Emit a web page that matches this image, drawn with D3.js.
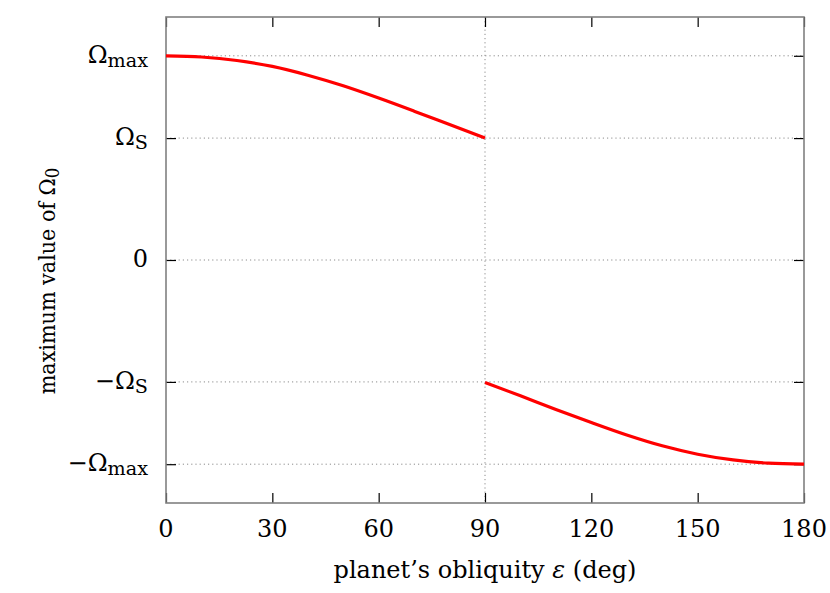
<!DOCTYPE html>
<html>
<head>
<meta charset="utf-8">
<script src="https://cdn.jsdelivr.net/npm/d3@7"></script>
<style>
html,body{margin:0;padding:0;background:#fff;}
svg{display:block;}
text{font-family:"DejaVu Serif",serif;fill:#000;}
</style>
</head>
<body>
<svg id="chart" width="830" height="593"></svg>
<script>
// ---- data ----
const upperObliquity = [0, 10, 20, 30, 40, 50, 60, 70, 80, 90];
const upperOmega     = [1.000, 0.994, 0.977, 0.948, 0.905, 0.853, 0.793, 0.729, 0.663, 0.597];
const lowerObliquity = [90, 100, 110, 120, 130, 140, 150, 160, 170, 180];
const lowerOmega     = [-0.600, -0.665, -0.732, -0.796, -0.857, -0.910, -0.951, -0.979, -0.995, -1.000];

const xTickValues = [0, 30, 60, 90, 120, 150, 180];
const yTickValues = [-1, -0.597, 0, 0.597, 1];
const yTickMain   = ["−Ω", "−Ω", "0", "Ω", "Ω"];
const yTickSub    = ["max", "S", "", "S", "max"];
const xGridValues = [90];

const xLabelParts = ["planet’s obliquity ", "ε", " (deg)"];
const yLabelMain = "maximum value of Ω";
const yLabelSub = "0";

// ---- layout ----
const svg = d3.select("#chart");
const L = 166, R = 804, T = 17, B = 503;
const x = d3.scaleLinear().domain([0, 180]).range([L, R]);
const y = d3.scaleLinear().domain([-1.19, 1.19]).range([B, T]);
const FS = 24;
const SUB = 0.8;

// grid
const grid = svg.append("g").attr("stroke", "#8c8c8c").attr("stroke-width", 1).attr("stroke-dasharray", "1.2,3");
grid.selectAll("line.h").data(yTickValues).enter().append("line")
  .attr("x1", L).attr("x2", R).attr("y1", d => y(d)).attr("y2", d => y(d));
grid.selectAll("line.v").data(xGridValues).enter().append("line")
  .attr("y1", T).attr("y2", B).attr("x1", d => x(d)).attr("x2", d => x(d));

// axes (ticks inward, on all sides)
const tl = 10;
function styleAxis(g){
  g.select(".domain").remove();
  g.selectAll(".tick line").attr("stroke", "#000").attr("stroke-width", 1.2);
  g.selectAll(".tick text").remove();
}
svg.append("g").attr("transform", `translate(0,${B})`)
  .call(d3.axisBottom(x).tickValues(xTickValues).tickSize(-tl).tickFormat("")).call(styleAxis);
svg.append("g").attr("transform", `translate(0,${T})`)
  .call(d3.axisTop(x).tickValues(xTickValues).tickSize(-tl).tickFormat("")).call(styleAxis);
svg.append("g").attr("transform", `translate(${L},0)`)
  .call(d3.axisLeft(y).tickValues(yTickValues).tickSize(-tl).tickFormat("")).call(styleAxis);
svg.append("g").attr("transform", `translate(${R},0)`)
  .call(d3.axisRight(y).tickValues(yTickValues).tickSize(-tl).tickFormat("")).call(styleAxis);

// border
svg.append("rect").attr("x", L).attr("y", T).attr("width", R - L).attr("height", B - T)
  .attr("fill", "none").attr("stroke", "#808080").attr("stroke-width", 1.6);

// curves
const line = d3.line().x(d => x(d[0])).y(d => y(d[1])).curve(d3.curveMonotoneX);
const series = [
  d3.zip(upperObliquity, upperOmega),
  d3.zip(lowerObliquity, lowerOmega)
];
svg.selectAll("path.curve").data(series).enter().append("path")
  .attr("class", "curve").attr("d", line)
  .attr("fill", "none").attr("stroke", "#ff0000").attr("stroke-width", 3.2).attr("stroke-linecap", "butt");

// x tick labels
svg.append("g").selectAll("text").data(xTickValues).enter().append("text")
  .attr("x", d => x(d)).attr("y", 537).attr("text-anchor", "middle")
  .style("font-size", FS + "px").text(d => d);

// y tick labels
const yl = svg.append("g").selectAll("text").data(yTickValues).enter().append("text")
  .attr("x", 148).attr("y", d => y(d) + 7).attr("text-anchor", "end")
  .style("font-size", FS + "px");
yl.append("tspan").text((d, i) => yTickMain[i]);
yl.append("tspan").attr("dy", 4).style("font-size", (FS * SUB) + "px").text((d, i) => yTickSub[i]);

// axis titles
const xt = svg.append("text").attr("x", (L + R) / 2).attr("y", 578).attr("text-anchor", "middle")
  .style("font-size", FS + "px");
xt.append("tspan").text(xLabelParts[0]);
xt.append("tspan").style("font-style", "italic").text(xLabelParts[1]);
xt.append("tspan").text(xLabelParts[2]);

const YFS = 23;
const yt = svg.append("text").attr("transform", "translate(55,281) rotate(-90)")
  .attr("text-anchor", "middle")
  .style("font-family", "'DejaVu Serif Condensed','DejaVu Serif',serif")
  .style("font-stretch", "condensed")
  .style("font-size", YFS + "px");
yt.append("tspan").text(yLabelMain);
yt.append("tspan").attr("dy", 4).style("font-size", (YFS * SUB) + "px").text(yLabelSub);
</script>
</body>
</html>
